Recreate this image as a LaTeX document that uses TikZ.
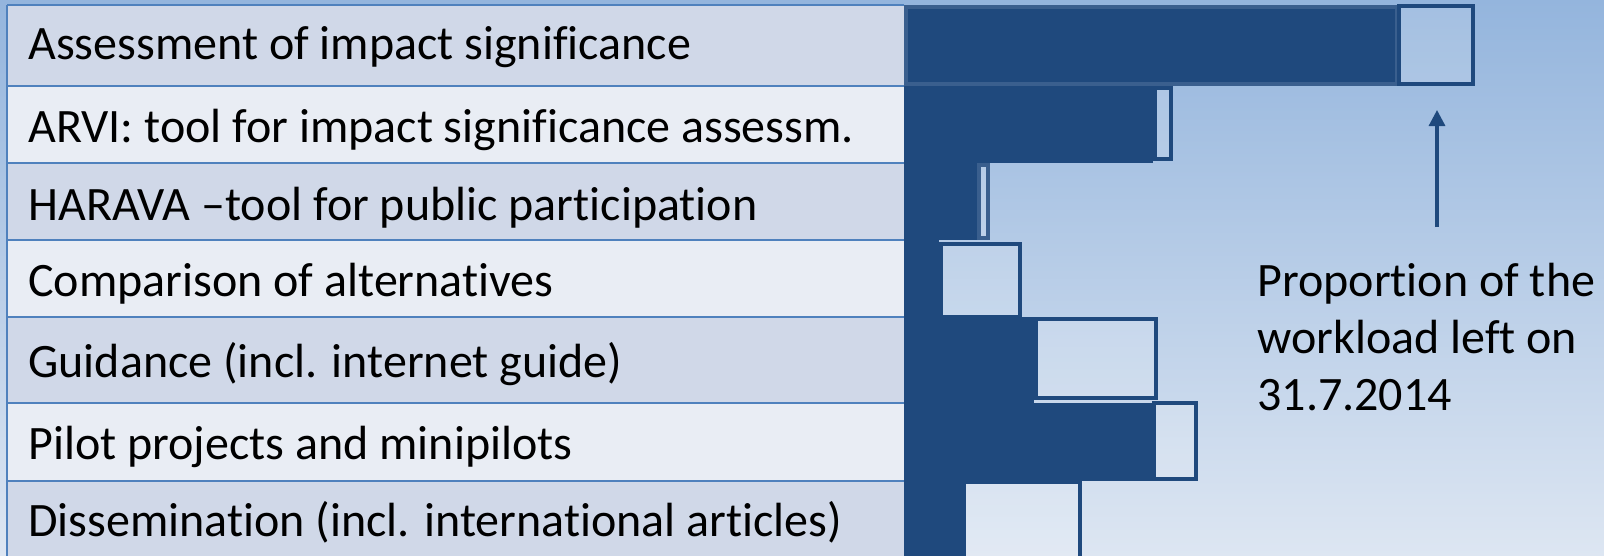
\documentclass[tikz,border=0pt]{standalone}
\usepackage{fontspec}
\setmainfont{Carlito}[Ligatures=NoCommon]
\usetikzlibrary{arrows.meta}

\definecolor{bgtop}{RGB}{148,181,221}
\definecolor{bgbot}{RGB}{221,230,242}
\definecolor{rowodd}{RGB}{208,216,232}
\definecolor{roweven}{RGB}{233,237,244}
\definecolor{tableblue}{RGB}{79,129,189}
\definecolor{doneblue}{RGB}{31,73,125}
\definecolor{edgeblue}{RGB}{58,95,142}

\begin{document}
\begin{tikzpicture}[x=0.5pt,y=-0.5pt,
  lbl/.style={anchor=base west,inner sep=0pt,font=\fontsize{24}{28}\selectfont},
  rowline/.style={draw=tableblue,line width=1pt},
  leftbox/.style={draw=doneblue,line width=2pt,fill=white,fill opacity=0.15},
  thinbox/.style={draw=edgeblue,line width=2pt,fill=white,fill opacity=0.15}]
\useasboundingbox (0,0) rectangle (1604,556);
\shade[top color=bgtop,bottom color=bgbot] (0,0) rectangle (1604,556);

% table rows
\fill[rowodd]  (7,5)   rectangle (904,86);
\fill[roweven] (7,86)  rectangle (904,163);
\fill[rowodd]  (7,163) rectangle (904,240);
\fill[roweven] (7,240) rectangle (904,317);
\fill[rowodd]  (7,317) rectangle (904,403);
\fill[roweven] (7,403) rectangle (904,481);
\fill[rowodd]  (7,481) rectangle (904,556);

\draw[rowline] (7,5) -- (904,5);
\draw[rowline] (7,86) -- (904,86);
\draw[rowline] (7,163) -- (904,163);
\draw[rowline] (7,240) -- (904,240);
\draw[rowline] (7,317) -- (904,317);
\draw[rowline] (7,403) -- (904,403);
\draw[rowline] (7,481) -- (904,481);
\draw[rowline] (7,5) -- (7,556);

\node[lbl] (assess)  at (28,60)  {Assessment of impact significance};
\node[lbl] (arvi)    at (28,142) {ARVI: tool for impact significance assessm.};
\node[lbl] (harava)  at (28,220) {HARAVA –tool for public participation};
\node[lbl] (compare) at (28,296) {Comparison of alternatives};
\node[lbl] (guide)   at (28,377) {Guidance (incl. internet guide)};
\node[lbl] (pilot)   at (28,459) {Pilot projects and minipilots};
\node[lbl] (dissem)  at (28,536) {Dissemination (incl. international articles)};

% work done
\fill[doneblue] (904,5) rectangle (1397,86);
\draw[edgeblue,line width=2pt] (906,7) rectangle (1397,84);
\fill[doneblue] (904,86)  rectangle (1153,163);
\fill[doneblue] (904,163) rectangle (977,240);
\fill[doneblue] (904,240) rectangle (939,317);
\fill[doneblue] (904,317) rectangle (1034,403);
\fill[doneblue] (904,403) rectangle (1152,481);
\fill[doneblue] (904,481) rectangle (962,556);

% work left
\draw[leftbox] (1399,6)   rectangle (1473,84);
\draw[leftbox] (1155,88)  rectangle (1171,159);
\draw[thinbox] (979,165)  rectangle (988,238);
\draw[leftbox] (941,244)  rectangle (1020,317);
\draw[leftbox] (1036,319) rectangle (1156,398);
\draw[leftbox] (1154,403) rectangle (1196,479);
\draw[leftbox] (964,482)  rectangle (1080,560);

%\draw[step=10,gray,very thin] (0,0) grid (1604,556);

\coordinate (tail) at (1437,227);
\coordinate (head) at (1437,110);
\draw[doneblue,line width=1.6pt,-{Triangle[width=8pt,length=8pt]}] (tail) -- (head);

\node[lbl] (note1) at (1257,296) {Proportion of the};
\node[lbl] (note2) at (1257,353) {workload left on};
\node[lbl] (note3) at (1257,410) {31.7.2014};
\end{tikzpicture}
\end{document}
